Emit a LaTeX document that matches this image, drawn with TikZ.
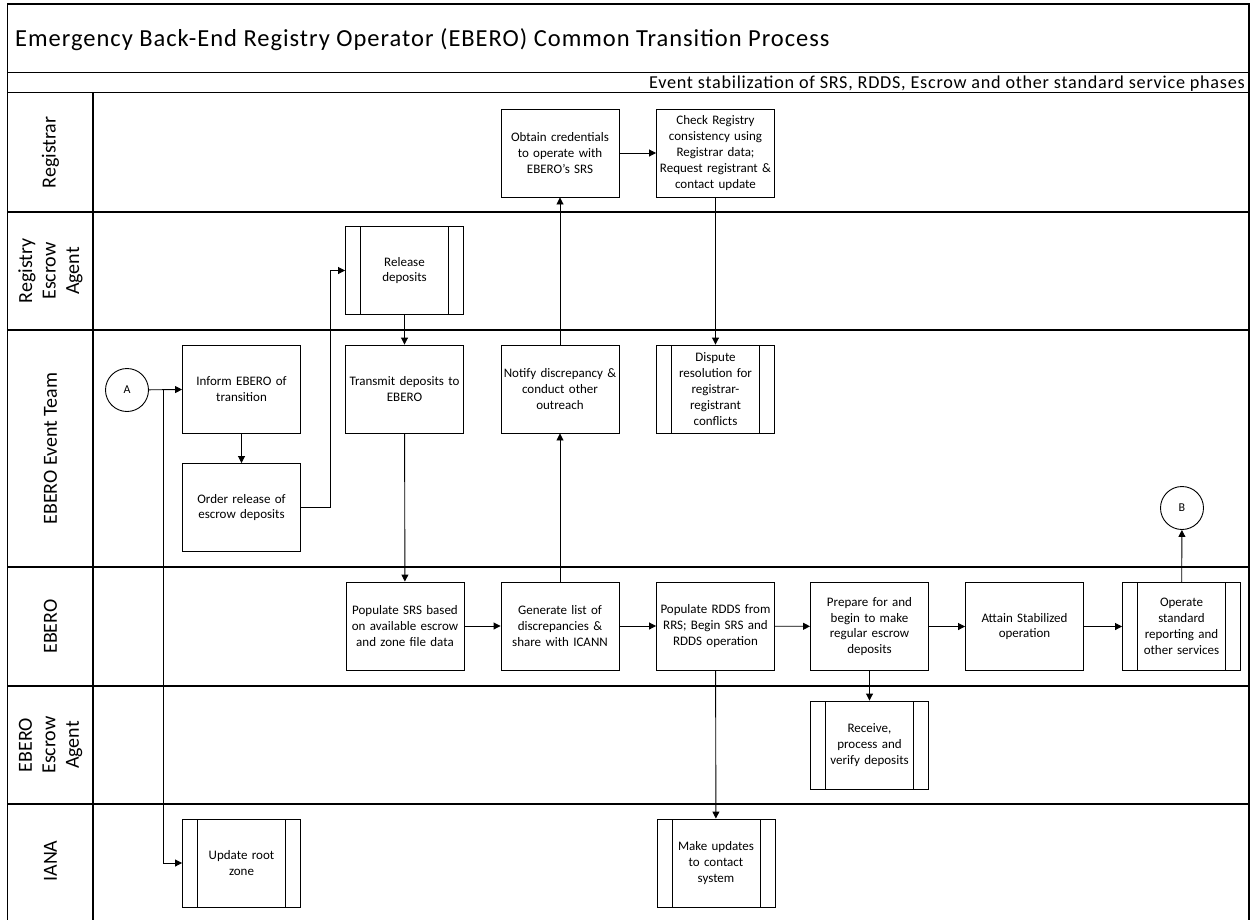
\documentclass[tikz,border=0pt]{standalone}
\usepackage{fontspec}
\setmainfont{Carlito}
\newfontfamily\titlefont[LetterSpace=4]{Carlito}
\newfontfamily\phasefont[LetterSpace=4]{Carlito}
\usetikzlibrary{arrows.meta}
\begin{document}
\begin{tikzpicture}[x=1pt,y=-1pt,
  lane/.style={line width=1.3pt},
  proc/.style={draw, line width=0.9pt, minimum width=118pt, minimum height=88pt, text width=118pt, align=center, font=\fontsize{13}{15.8}\selectfont, inner sep=0pt},
  predef/.style={proc, path picture={
     \draw[line width=0.9pt] ([xshift=15pt]path picture bounding box.north west) -- ([xshift=15pt]path picture bounding box.south west);
     \draw[line width=0.9pt] ([xshift=-15pt]path picture bounding box.north east) -- ([xshift=-15pt]path picture bounding box.south east);}},
  conn/.style={draw, circle, line width=0.9pt, minimum size=43pt, inner sep=0pt, font=\fontsize{12}{14}\selectfont},
  flow/.style={line width=0.9pt, -{Triangle[length=7pt,width=7pt]}},
  lanelabel/.style={rotate=90, align=center, font=\fontsize{20}{23.5}\selectfont},
]
\useasboundingbox (0,0) rectangle (1251,919);
% frame
\draw[lane] (7.5,922) -- (7.5,4) -- (1249,4) -- (1249,922);
\draw[lane] (7.5,72.5) -- (1249,72.5);
\draw[lane] (7.5,92.5) -- (1249,92.5);
\foreach \yy in {212,330,567,686,804} \draw[lane] (7.5,\yy) -- (1249,\yy);
\draw[lane] (93,92.5) -- (93,922);
\node[anchor=base west, inner sep=0pt, font=\titlefont\fontsize{24.5}{26}\selectfont] (title) at (15,46) {Emergency Back-End Registry Operator (EBERO) Common Transition Process};
\node[anchor=base east, inner sep=0pt, font=\phasefont\fontsize{18.2}{20}\selectfont] (phase) at (1245,88) {Event stabilization of SRS, RDDS, Escrow and other standard service phases};
% lane labels
\node[lanelabel] (l1) at (50.5,152.5) {Registrar};
\node[lanelabel] (l2) at (50.5,271) {Registry\\Escrow\\Agent};
\node[lanelabel] (l3) at (50.5,448.5) {EBERO Event Team};
\node[lanelabel] (l4) at (50.5,626.5) {EBERO};
\node[lanelabel] (l5) at (50.5,745) {EBERO\\Escrow\\Agent};
\node[lanelabel] (l6) at (50.5,861) {IANA};
% nodes
\node[conn] (A) at (127,390) {A};
\node[conn] (B) at (1182,508) {B};
\node[proc] (inform) at (241.5,389) {Inform EBERO of\\transition};
\node[proc] (order) at (241.5,507.5) {Order release of\\escrow deposits};
\node[predef] (release) at (404.5,270.5) {Release\\deposits};
\node[proc] (transmit) at (404.5,389) {Transmit deposits to\\EBERO};
\node[proc] (popsrs) at (405,626) {Populate SRS based\\on available escrow\\and zone file data};
\node[proc] (generate) at (560,626) {Generate list of\\discrepancies \&\\share with ICANN};
\node[proc] (poprdds) at (715.5,626) {Populate RDDS from\\RRS; Begin SRS and\\RDDS operation};
\node[proc] (prepare) at (869.5,626.5) {Prepare for and\\begin to make\\regular escrow\\deposits};
\node[proc] (attain) at (1024.5,626.5) {Attain Stabilized\\operation};
\node[predef] (operate) at (1181.5,626.5) {Operate\\standard\\reporting and\\other services};
\node[proc] (obtain) at (560,153) {Obtain credentials\\to operate with\\EBERO’s SRS};
\node[proc] (check) at (715.5,153) {Check Registry\\consistency using\\Registrar data;\\Request registrant \&\\contact update};
\node[proc] (notify) at (560,389) {Notify discrepancy \&\\conduct other\\outreach};
\node[predef] (dispute) at (715.5,389) {Dispute\\resolution for\\registrar-\\registrant\\conflicts};
\node[predef] (receive) at (869.5,745) {Receive,\\process and\\verify deposits};
\node[predef] (makeupd) at (716,863) {Make updates\\to contact\\system};
\node[predef] (rootzone) at (241.5,863) {Update root\\zone};
% connectors
\coordinate (jA) at (163,390);
\draw[flow] (A) -- (inform);
\draw[flow] (jA) |- (rootzone.west);
\draw[flow] (inform) -- (order);
\draw[flow] (order.east) -- (330,507.5) |- (release.west);
\draw[flow] (release) -- (transmit);
\draw[flow] (transmit) -- (popsrs);
\draw[flow] (popsrs) -- (generate);
\draw[flow] (generate) -- (notify);
\draw[flow] (notify) -- (obtain);
\draw[flow] (obtain) -- (check);
\draw[flow] (check) -- (dispute);
\draw[flow] (generate) -- (poprdds);
\draw[flow] (poprdds) -- (makeupd);
\draw[flow] (poprdds) -- (prepare);
\draw[flow] (prepare) -- (receive);
\draw[flow] (prepare) -- (attain);
\draw[flow] (attain) -- (operate);
\draw[flow] (operate) -- (B);
\end{tikzpicture}
\end{document}
